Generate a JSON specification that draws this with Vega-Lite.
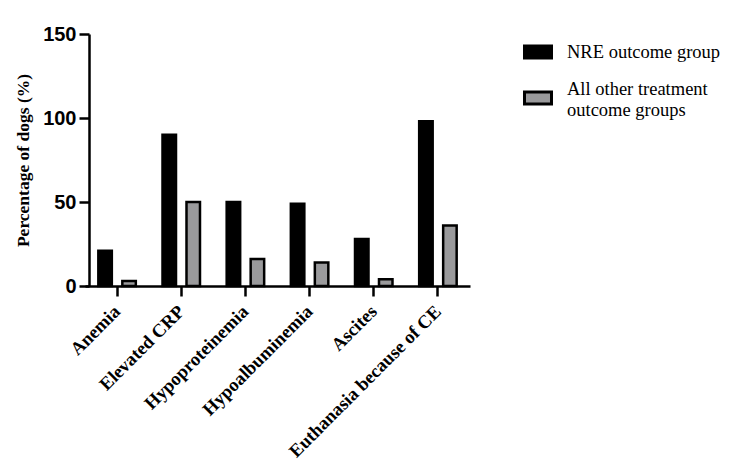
{
  "$schema": "https://vega.github.io/schema/vega-lite/v6.json",
  "width": 385,
  "height": 252,
  "autosize": "none",
  "padding": {"left": 85, "top": 34, "right": 267, "bottom": 182},
  "background": "white",
  "data": {
    "values": [
      {"category": "Anemia", "group": "NRE outcome group", "pct": 21},
      {"category": "Anemia", "group": "All other treatment outcome groups", "pct": 3},
      {"category": "Elevated CRP", "group": "NRE outcome group", "pct": 90},
      {"category": "Elevated CRP", "group": "All other treatment outcome groups", "pct": 50},
      {"category": "Hypoproteinemia", "group": "NRE outcome group", "pct": 50},
      {"category": "Hypoproteinemia", "group": "All other treatment outcome groups", "pct": 16},
      {"category": "Hypoalbuminemia", "group": "NRE outcome group", "pct": 49},
      {"category": "Hypoalbuminemia", "group": "All other treatment outcome groups", "pct": 14},
      {"category": "Ascites", "group": "NRE outcome group", "pct": 28},
      {"category": "Ascites", "group": "All other treatment outcome groups", "pct": 4},
      {"category": "Euthanasia because of CE", "group": "NRE outcome group", "pct": 98},
      {"category": "Euthanasia because of CE", "group": "All other treatment outcome groups", "pct": 36}
    ]
  },
  "mark": {"type": "bar", "stroke": "black", "strokeWidth": 2.5},
  "encoding": {
    "x": {
      "field": "category",
      "type": "nominal",
      "sort": ["Anemia", "Elevated CRP", "Hypoproteinemia", "Hypoalbuminemia", "Ascites", "Euthanasia because of CE"],
      "scale": {"paddingInner": 0, "paddingOuter": 0},
      "axis": {
        "title": null,
        "labelAngle": -45,
        "labelAlign": "right",
        "labelBaseline": "middle",
        "labelFont": "Liberation Serif",
        "labelFontWeight": "bold",
        "labelFontSize": 18.5,
        "labelColor": "black",
        "labelPadding": 12,
        "labelLimit": 400,
        "domainColor": "black",
        "domainWidth": 2.5,
        "tickColor": "black",
        "tickWidth": 2.5,
        "tickSize": 10
      }
    },
    "xOffset": {
      "field": "group",
      "type": "nominal",
      "sort": ["NRE outcome group", "All other treatment outcome groups"],
      "scale": {"paddingInner": 0.4375, "paddingOuter": 0.556}
    },
    "y": {
      "field": "pct",
      "type": "quantitative",
      "scale": {"domain": [0, 150], "nice": false},
      "axis": {
        "values": [0, 50, 100, 150],
        "grid": false,
        "offset": -4,
        "title": "Percentage of dogs (%)",
        "titleFont": "Liberation Serif",
        "titleFontWeight": "bold",
        "titleFontSize": 17.5,
        "titleColor": "black",
        "titlePadding": 10,
        "labelFont": "Liberation Sans",
        "labelFontWeight": "bold",
        "labelFontSize": 20,
        "labelColor": "black",
        "labelPadding": 3,
        "domainColor": "black",
        "domainWidth": 2.5,
        "tickColor": "black",
        "tickWidth": 2.5,
        "tickSize": 10
      }
    },
    "color": {
      "field": "group",
      "type": "nominal",
      "sort": ["NRE outcome group", "All other treatment outcome groups"],
      "scale": {"domain": ["NRE outcome group", "All other treatment outcome groups"], "range": ["#000000", "#9a9a9c"]},
      "legend": {
        "title": null,
        "orient": "none",
        "legendX": 438,
        "legendY": 3,
        "symbolType": "M-1,-0.44H1V0.44H-1Z",
        "symbolSize": 729,
        "symbolStrokeColor": "black",
        "symbolStrokeWidth": 3,
        "symbolOpacity": 1,
        "labelFont": "Liberation Serif",
        "labelFontSize": 18.5,
        "labelColor": "black",
        "labelOffset": 14,
        "labelLimit": 300,
        "rowPadding": 16,
        "labelExpr": "datum.label == 'All other treatment outcome groups' ? ['All other treatment', 'outcome groups'] : datum.label",
        "encode": {
          "labels": {
            "update": {
              "dy": {"signal": "datum.value == 'All other treatment outcome groups' ? -9 : 0"}
            }
          }
        }
      }
    }
  },
  "config": {"view": {"stroke": null}}
}
